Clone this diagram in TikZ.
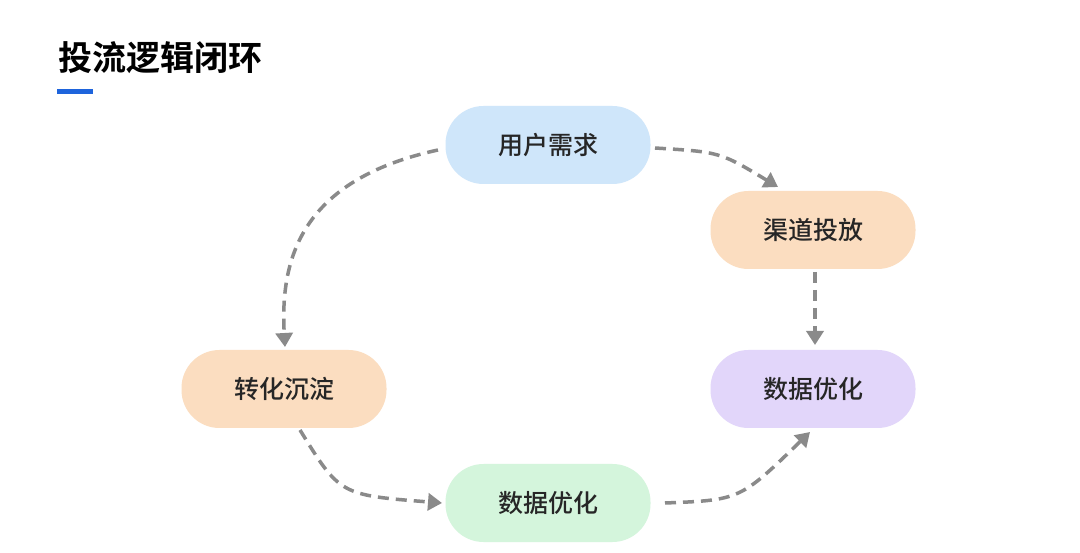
\documentclass[tikz,border=0pt]{standalone}
\usepackage{fontspec}
\newfontfamily\cjk{Noto Sans CJK SC Medium}
\newfontfamily\cjkb{Noto Sans CJK SC Bold}
\usetikzlibrary{arrows.meta}
\definecolor{cblue}{HTML}{CFE6FA}
\definecolor{cpeach}{HTML}{FBDDC0}
\definecolor{clav}{HTML}{E2D6FA}
\definecolor{cgreen}{HTML}{D4F5DC}
\definecolor{cline}{HTML}{8A8A8A}
\begin{document}
\begin{tikzpicture}[x=1pt,y=-1pt,
  pill/.style={rounded corners=38pt,minimum width=205pt,minimum height=78pt,inner sep=0pt,font=\cjk\fontsize{25}{25}\selectfont,text=black!85},
  flow/.style={draw=cline,line width=3.5pt,dash pattern=on 11pt off 7pt,-{Triangle[length=14pt,width=17pt]}}]
\useasboundingbox[fill=white] (0,0) rectangle (1080,553);
\node[anchor=west,font=\cjkb\fontsize{34}{34}\selectfont] (title) at (55,58) {投流逻辑闭环};
\fill[fill={rgb,255:red,30;green,100;blue,220}] (57,89) rectangle (93,94);
\node[pill,fill=cblue] (a) at (548,145) {用户需求};
\node[pill,fill=cpeach] (b) at (813,230) {渠道投放};
\node[pill,fill=clav] (c) at (813,389) {数据优化};
\node[pill,fill=cgreen] (d) at (548,503) {数据优化};
\node[pill,fill=cpeach] (e) at (284,389) {转化沉淀};
\coordinate (a1) at (655,148); \coordinate (a2) at (778,187);
\coordinate (b1) at (815,272); \coordinate (b2) at (815,345);
\coordinate (d1) at (665,503); \coordinate (d2) at (810,432);
\coordinate (e1) at (300,430); \coordinate (e2) at (442,503);
\coordinate (a3) at (438,150); \coordinate (e3) at (285,347);
\draw[flow] (a1) .. controls (720,152) .. (a2);
\draw[flow] (b1) -- (b2);
\draw[flow] (d1) .. controls (740,500) .. (d2);
\draw[flow] (e1) .. controls (340,495) .. (e2);
\draw[flow] (a3) .. controls (300,180) and (280,260) .. (e3);
\end{tikzpicture}
\end{document}
